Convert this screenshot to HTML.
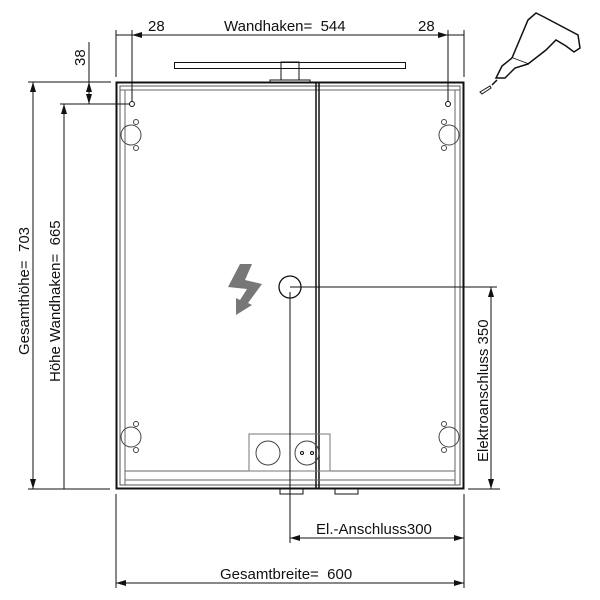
<!DOCTYPE html>
<html><head><meta charset="utf-8"><style>body{margin:0;background:#fff}svg{display:block}text{font-family:"Liberation Sans",sans-serif;font-size:15px;fill:#111;white-space:pre}</style></head>
<body>
<svg width="600" height="600" viewBox="0 0 600 600" xmlns="http://www.w3.org/2000/svg">
<defs>
<marker id="a" viewBox="0 0 10 6" refX="10" refY="3" markerWidth="10" markerHeight="6" orient="auto-start-reverse"><path d="M0,0 L10,3 L0,6 z" fill="#111"/></marker>
</defs>
<g stroke="#111" fill="none" stroke-width="1">
<rect x="116.5" y="82.5" width="347" height="406" stroke-width="2"/>
<rect x="120" y="86" width="340" height="399" stroke="#555"/>
<line x1="125" y1="90" x2="125" y2="485" stroke="#666"/>
<line x1="455" y1="90" x2="455" y2="485" stroke="#666"/>
<line x1="120" y1="90" x2="460" y2="90" stroke="#666"/>
<line x1="316" y1="83" x2="316" y2="488" stroke-width="1.5"/>
<line x1="319" y1="83" x2="319" y2="488" stroke-width="1.5"/>
<line x1="125" y1="471" x2="455" y2="471" stroke="#666"/>
<line x1="125" y1="480" x2="455" y2="480" stroke="#666"/>
<rect x="174.5" y="62.5" width="231" height="6"/>
<rect x="281" y="62" width="18" height="18"/>
<rect x="270" y="80" width="40" height="3"/>
<rect x="280" y="489" width="23" height="5"/>
<rect x="335" y="489" width="23" height="5"/>
<circle cx="132" cy="104" r="2.5"/><circle cx="448" cy="104" r="2.5"/>
<g stroke="#444">
<circle cx="131" cy="135" r="10"/><circle cx="136" cy="122" r="2.5"/><circle cx="136" cy="148" r="2.5"/>
<circle cx="131" cy="437" r="10"/><circle cx="136" cy="424" r="2.5"/><circle cx="136" cy="450" r="2.5"/>
<circle cx="449" cy="135" r="10"/><circle cx="444" cy="122" r="2.5"/><circle cx="444" cy="148" r="2.5"/>
<circle cx="449" cy="437" r="10"/><circle cx="444" cy="424" r="2.5"/><circle cx="444" cy="450" r="2.5"/>
</g>
<rect x="249" y="434" width="81" height="37" stroke="#777"/>
<circle cx="268" cy="453" r="12" stroke="#444"/>
<circle cx="307" cy="453" r="12" stroke="#444"/>
<circle cx="302" cy="453" r="1.5"/><circle cx="312" cy="453" r="1.5"/>
<circle cx="290" cy="287" r="11" stroke-width="1.3"/>
<line x1="290" y1="287" x2="497" y2="287"/>
<line x1="290" y1="292" x2="290" y2="543"/>
<line x1="116" y1="30" x2="116" y2="77"/>
<line x1="132" y1="30" x2="132" y2="102"/>
<line x1="448" y1="30" x2="448" y2="102"/>
<line x1="464" y1="30" x2="464" y2="77"/>
<line x1="132" y1="35" x2="448" y2="35" marker-start="url(#a)" marker-end="url(#a)"/>
<line x1="116" y1="35" x2="132" y2="35"/>
<line x1="448" y1="35" x2="464" y2="35"/>
<line x1="28" y1="82" x2="111" y2="82"/>
<line x1="60" y1="104" x2="130" y2="104"/>
<line x1="28" y1="489" x2="110" y2="489"/>
<line x1="33" y1="82" x2="33" y2="489" marker-start="url(#a)" marker-end="url(#a)"/>
<line x1="64" y1="104" x2="64" y2="489" marker-start="url(#a)"/>
<line x1="89" y1="42" x2="89" y2="104"/>
<line x1="89" y1="82" x2="89" y2="104" marker-start="url(#a)" marker-end="url(#a)"/>
<line x1="468" y1="489" x2="500" y2="489"/>
<line x1="491" y1="287" x2="491" y2="489" marker-start="url(#a)" marker-end="url(#a)"/>
<line x1="116" y1="494" x2="116" y2="588"/>
<line x1="464" y1="494" x2="464" y2="588"/>
<line x1="290" y1="538" x2="464" y2="538" marker-start="url(#a)" marker-end="url(#a)"/>
<line x1="116" y1="583" x2="464" y2="583" marker-start="url(#a)" marker-end="url(#a)"/>
</g>
<path d="M240,264 L252,264 L245,280 L262,284 L248,303 L252,305 L236,315 L236,298 L240,300 L247,289 L228,287 Z" fill="#777"/>
<g stroke="#111" fill="#fff" stroke-width="1.5">
<path d="M528,20 L536,13 L544,17 L578,35 L580,48 L574,52 L566,46 L556,40 L546,50 L528,64 L512,58 Z"/>
<path d="M512,58 L502,66 L496,78 L505,78 L515,68 L528,64"/>
<path d="M497,80 L492,85"/>
<path d="M480,92 L490,86 L491,88 L482,94 Z" stroke-width="1"/>
</g>
<text x="148" y="31">28</text>
<text x="224" y="31">Wandhaken=  544</text>
<text x="418" y="31">28</text>
<text transform="translate(85,66) rotate(-90)">38</text>
<text transform="translate(29,355) rotate(-90)">Gesamthöhe=  703</text>
<text transform="translate(60,382) rotate(-90)">Höhe Wandhaken=  665</text>
<text transform="translate(488,462) rotate(-90)">Elektroanschluss 350</text>
<text x="316" y="534">El.-Anschluss300</text>
<text x="220" y="579">Gesamtbreite=  600</text>
</svg>
</body></html>
